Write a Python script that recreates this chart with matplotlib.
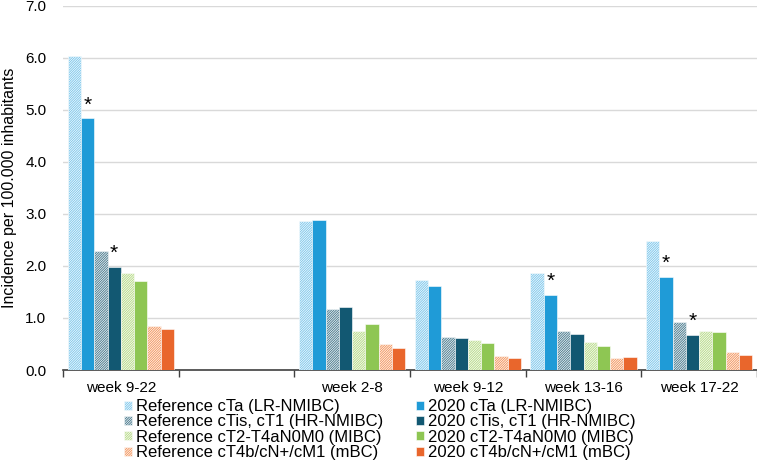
import numpy as np
import matplotlib
matplotlib.use("Agg")
import matplotlib.pyplot as plt

# Define the data
categories = ["week 9-22", "", "week 2-8", "week 9-12", "week 13-16", "week 17-22"]

nan = np.nan
ref_cta = [6.03, nan, 2.86, 1.72, 1.87, 2.47]
cta_2020 = [4.84, nan, 2.89, 1.62, 1.45, 1.79]
ref_ctis = [2.29, nan, 1.17, 0.63, 0.74, 0.93]
ctis_2020 = [1.98, nan, 1.21, 0.61, 0.69, 0.68]
ref_mibc = [1.87, nan, 0.75, 0.57, 0.53, 0.75]
mibc_2020 = [1.71, nan, 0.88, 0.52, 0.47, 0.73]
ref_mbc = [0.85, nan, 0.50, 0.26, 0.24, 0.34]
mbc_2020 = [0.79, nan, 0.43, 0.23, 0.25, 0.29]

# (series index, category index) pairs that carry an asterisk
significant = [(1, 0), (3, 0), (1, 4), (1, 5), (3, 5)]

series = [ref_cta, cta_2020, ref_ctis, ctis_2020, ref_mibc, mibc_2020, ref_mbc, mbc_2020]
labels = [
    "Reference cTa (LR-NMIBC)",
    "2020 cTa (LR-NMIBC)",
    "Reference cTis, cT1 (HR-NMIBC)",
    "2020 cTis, cT1 (HR-NMIBC)",
    "Reference cT2-T4aN0M0 (MIBC)",
    "2020 cT2-T4aN0M0 (MIBC)",
    "Reference cT4b/cN+/cM1 (mBC)",
    "2020 cT4b/cN+/cM1 (mBC)",
]
colors = ["#7fc8ec", "#1f9bd7", "#4d7d90", "#125872",
          "#b8db8a", "#8ec653", "#f39862", "#e9662c"]
hatched = [True, False, True, False, True, False, True, False]

plt.rcParams["font.family"] = ["Liberation Sans", "DejaVu Sans"]
plt.rcParams["hatch.linewidth"] = 0.5

fig = plt.figure(figsize=(7.57, 4.62), dpi=100)
ax = fig.add_axes([63 / 757, 1 - 370 / 462, 1 - 63 / 757, (370 - 5.7) / 462])

x = np.arange(len(categories))
width = 0.115
handles = {}
for k, (vals, lab, col, h) in enumerate(zip(series, labels, colors, hatched)):
    pos = x + (k - 3.5) * width
    bars = ax.bar(pos, vals, width, color=col, edgecolor="white", linewidth=0.4,
                  hatch="/" * 14 if h else None, label=lab, zorder=3)
    handles[k] = bars

for k, c in significant:
    ax.text(x[c] + (k - 3.5) * width, series[k][c] + 0.07, "*", ha="center",
            va="bottom", fontsize=15, zorder=4)

ax.set_ylim(0, 7.0)
ax.set_yticks(np.arange(0, 7.01, 1.0))
ax.set_yticklabels([f"{v:.1f}" for v in np.arange(0, 7.01, 1.0)], fontsize=11)
ax.set_xlim(-0.5, 5.5 - 2 / 116)
ax.set_xticks(x)
ax.set_xticklabels(categories, fontsize=11)
ax.set_xticks(np.arange(-0.5, 5.6, 1.0), minor=True)
ax.tick_params(axis="x", which="major", length=0, pad=8)
ax.tick_params(axis="x", which="minor", length=5, color="#404040", width=1)
ax.tick_params(axis="y", length=0, pad=12)
ax.grid(axis="y", color="#d9d9d9", linewidth=1, zorder=0)
ax.set_axisbelow(True)
for s in ["top", "right", "left"]:
    ax.spines[s].set_visible(False)
ax.spines["bottom"].set_color("#404040")
ax.spines["bottom"].set_linewidth(1.2)
ax.set_ylabel("Incidence per 100.000 inhabitants", fontsize=11.5, labelpad=6)

order = [0, 2, 4, 6, 1, 3, 5, 7]
fig.legend([handles[i] for i in order], [labels[i] for i in order],
           loc="upper left", bbox_to_anchor=(124 / 757, 1 - 399 / 462), ncol=2,
           frameon=False, fontsize=12, labelspacing=0.02, handlelength=0.45,
           handleheight=0.45, handletextpad=0.25, columnspacing=2.0, borderpad=0,
           borderaxespad=0)

fig.savefig("out.png", dpi=100)
